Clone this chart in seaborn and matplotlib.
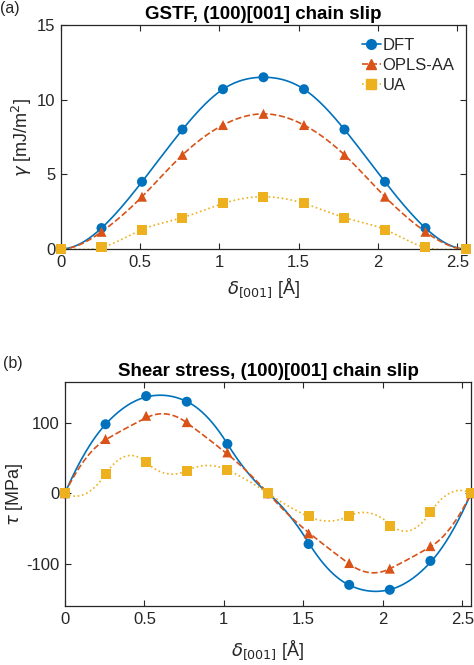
import numpy as np
import pandas as pd
import matplotlib
matplotlib.use('Agg')
import matplotlib.pyplot as plt
from matplotlib.lines import Line2D
import seaborn as sns

# slip displacement along [001] (A)
delta = [0, 0.2555, 0.511, 0.7665, 1.022, 1.2775, 1.533, 1.7885, 2.044, 2.2995, 2.555]

# GSTF energies (mJ/m^2)
gstf_dft = [0, 1.4, 4.5, 8.0, 10.7, 11.5, 10.7, 8.0, 4.5, 1.4, 0]
gstf_opls = [0, 1.15, 3.5, 6.3, 8.3, 9.05, 8.3, 6.3, 3.5, 1.15, 0]
gstf_ua = [0, 0.1, 1.3, 2.1, 3.05, 3.5, 3.05, 2.1, 1.3, 0.1, 0]

# shear stress (MPa)
tau_dft = [0, 98, 138, 130, 70, 0, -72, -130, -137, -96, 0]
tau_opls = [0, 77, 110, 101, 58, 0, -57, -99, -107, -75, 0]
tau_ua = [0, 27, 45, 32, 33, 0, -32, -32, -46, -26, 0]

series = ['DFT', 'OPLS-AA', 'UA']
colors = ['#0072BD', '#D95319', '#EDB120']
markers = ['o', '^', 's']
styles = ['-', '--', ':']


def spline(x, y, xs, deriv=False):
    # clamped cubic spline (zero slope at both ends), value or first derivative
    x = np.asarray(x, float)
    y = np.asarray(y, float)
    n = len(x)
    h = np.diff(x)
    A = np.zeros((n, n))
    b = np.zeros(n)
    for i in range(1, n - 1):
        A[i, i - 1] = h[i - 1]
        A[i, i] = 2 * (h[i - 1] + h[i])
        A[i, i + 1] = h[i]
        b[i] = 6 * ((y[i + 1] - y[i]) / h[i] - (y[i] - y[i - 1]) / h[i - 1])
    A[0, 0], A[0, 1] = 2 * h[0], h[0]
    b[0] = 6 * (y[1] - y[0]) / h[0]
    A[-1, -2], A[-1, -1] = h[-1], 2 * h[-1]
    b[-1] = -6 * (y[-1] - y[-2]) / h[-1]
    M = np.linalg.solve(A, b)
    idx = np.clip(np.searchsorted(x, xs) - 1, 0, n - 2)
    x0, x1 = x[idx], x[idx + 1]
    hh = x1 - x0
    c0 = y[idx] / hh - M[idx] * hh / 6
    c1 = y[idx + 1] / hh - M[idx + 1] * hh / 6
    if deriv:
        return (-M[idx] * (x1 - xs) ** 2 / (2 * hh) + M[idx + 1] * (xs - x0) ** 2 / (2 * hh)
                - c0 + c1)
    return (M[idx] * (x1 - xs) ** 3 / (6 * hh) + M[idx + 1] * (xs - x0) ** 3 / (6 * hh)
            + c0 * (x1 - xs) + c1 * (xs - x0))


sns.set_theme(style='ticks')
plt.rcParams['font.family'] = ['Liberation Sans', 'DejaVu Sans']
plt.rcParams['mathtext.fontset'] = 'dejavusans'
plt.rcParams['axes.unicode_minus'] = False
dark = '#262626'

fig = plt.figure(figsize=(4.74, 6.65), dpi=100)
ax1 = fig.add_axes([0.1287, 0.6256, 0.983 - 0.1287, 0.9624 - 0.6256])
ax2 = fig.add_axes([0.137, 0.0887, 0.9937 - 0.137, 0.4256 - 0.0887])

xs = np.linspace(delta[0], delta[-1], 500)


def draw(ax, data, curves, xpad):
    for vals, cy, name, c, m, ls in zip(data, curves, series, colors, markers, styles):
        curve = pd.DataFrame({'x': xs, 'y': cy})
        sns.lineplot(data=curve, x='x', y='y', ax=ax, color=c, linestyle=ls,
                     linewidth=1.2, legend=False)
        pts = pd.DataFrame({'x': delta, 'y': vals})
        sns.scatterplot(data=pts, x='x', y='y', ax=ax, color=c, marker=m,
                        s=52, edgecolor='none', legend=False, zorder=3,
                        clip_on=False)
    ax.set_xlim(0, 2.555)
    ax.set_xticks([0, 0.5, 1, 1.5, 2, 2.5])
    ax.set_xticklabels(['0', '0.5', '1', '1.5', '2', '2.5'])
    ax.tick_params(direction='in', top=True, right=True, labelsize=12,
                   colors=dark, length=4, width=0.8, pad=4)
    for sp in ax.spines.values():
        sp.set_color(dark)
        sp.set_linewidth(0.9)
    ax.set_xlabel(r'$\delta_{[001]}$ [Å]', fontsize=13, color=dark, labelpad=xpad)


gstf = [gstf_dft, gstf_opls, gstf_ua]
# energy curves and their slope (mJ/m^2 per A = 10 MPa) for the stress panel
draw(ax1, gstf, [spline(delta, g, xs) for g in gstf], 5)
ax1.set_ylim(0, 15)
ax1.set_yticks([0, 5, 10, 15])
ax1.set_ylabel(r'$\gamma$ [mJ/m$^2$]', fontsize=13, color=dark, labelpad=2)
ax1.set_title('GSTF, (100)[001] chain slip', fontsize=13.5, fontweight='bold',
              color='black', pad=4)

handles = [Line2D([], [], color=c, marker=m, linestyle=ls, markersize=7, linewidth=1.2)
           for c, m, ls in zip(colors, markers, styles)]
ax1.legend(handles, series, loc='upper right', frameon=False, fontsize=12,
           handlelength=1.1, handletextpad=0.1, labelspacing=0.3,
           borderaxespad=0.3, bbox_to_anchor=(1.0, 0.995))

draw(ax2, [tau_dft, tau_opls, tau_ua],
     [10 * spline(delta, g, xs, deriv=True) for g in gstf], 8)
ax2.set_ylim(-160, 158)
ax2.set_yticks([-100, 0, 100])
ax2.set_ylabel(r'$\tau$ [MPa]', fontsize=13, color=dark, labelpad=1)
ax2.set_title('Shear stress, (100)[001] chain slip', fontsize=13.5,
              fontweight='bold', color='black', pad=4)

fig.text(0.0, 0.987, '(a)', fontsize=11.5, color=dark, va='center', ha='left')
fig.text(0.006, 0.454, '(b)', fontsize=11.5, color=dark, va='center', ha='left')

fig.savefig('out.png', dpi=100)
